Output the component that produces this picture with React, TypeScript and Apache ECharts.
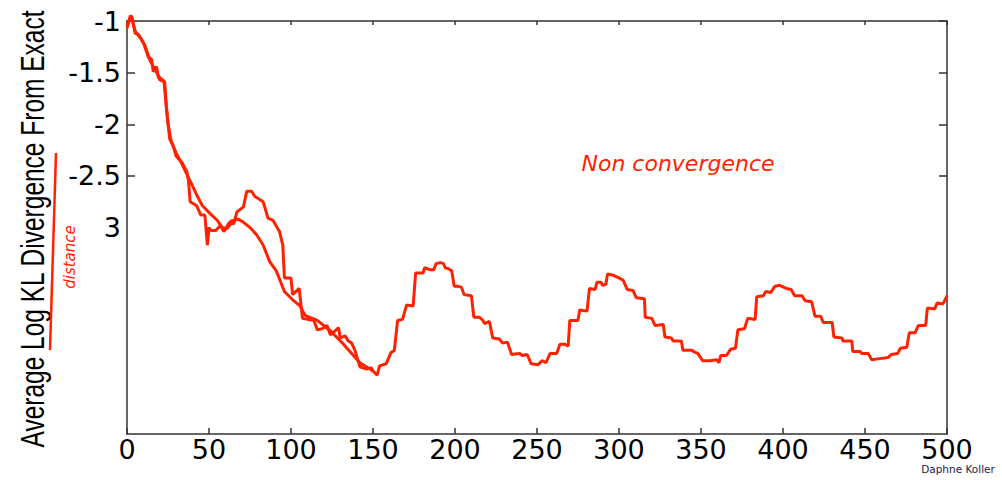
import React, { useEffect, useRef } from "react";
import * as echarts from "echarts";

const xTicks = [0, 50, 100, 150, 200, 250, 300, 350, 400, 450, 500];
const yLabelValues = [-1, -1.5, -2, -2.5, -3];
const yTickValues = [-1, -1.5, -2, -2.5];

const jaggedRun: [number, number][] = [
  [0, -1.07], [2, -0.95], [3, -0.96], [5, -1.12], [7, -1.13], [10, -1.21], [13, -1.35], [15, -1.37],
  [16, -1.49], [18, -1.44], [19, -1.54], [20, -1.57], [23, -1.59], [24, -1.83], [26, -2.14], [28, -2.2],
  [30, -2.31], [33.5, -2.37], [36.5, -2.46], [37.5, -2.55], [38.5, -2.75], [42.5, -2.79], [45, -2.88],
  [47.5, -2.88], [49, -3.17], [50, -3.0], [51, -3.03], [54, -3.03], [57, -2.98], [59, -3.04], [60, -3.02],
  [62, -2.96], [64, -2.93], [65, -2.97], [67, -2.85], [71, -2.8], [73, -2.65], [76, -2.65], [78, -2.7],
  [80, -2.72], [83, -2.75], [86, -2.91], [89, -2.93], [93, -3.04], [95, -3.17], [96, -3.49], [100, -3.49],
  [101, -3.65], [105, -3.59], [107, -3.88], [114, -3.9], [116, -3.99], [119, -3.98], [122, -3.95],
  [124, -4.04], [127, -4.0], [129, -3.97], [130, -4.07], [133, -4.05], [135, -4.1], [137, -4.12],
  [139, -4.19], [142, -4.35], [146, -4.37], [149, -4.36], [150, -4.39], [152.5, -4.43], [154, -4.34],
  [158, -4.32], [161, -4.21], [163, -4.19], [165, -3.9], [168, -3.89], [170.5, -3.75], [174.5, -3.76],
  [176, -3.44], [180.5, -3.44], [181.5, -3.39], [185, -3.41], [187, -3.41], [188.5, -3.35], [191, -3.34],
  [193, -3.35], [194, -3.39], [196, -3.4], [198, -3.42], [199.5, -3.57], [202, -3.57], [204, -3.58],
  [205.5, -3.65], [210, -3.66], [211.5, -3.87], [215, -3.87], [217, -3.9], [218, -3.93], [221, -3.91],
  [223, -4.07], [227, -4.08], [229, -4.12], [232, -4.11], [234.5, -4.23], [239.5, -4.22], [241, -4.24],
  [244, -4.23], [246.5, -4.32], [250.5, -4.33], [253, -4.29], [255.5, -4.31], [258, -4.22], [262, -4.22],
  [264, -4.13], [267, -4.13], [269, -4.15], [270, -3.9], [275, -3.9], [276, -3.8], [280.5, -3.81],
  [282, -3.59], [285.5, -3.6], [286.5, -3.53], [289, -3.53], [290, -3.56], [292, -3.55], [293, -3.45],
  [296, -3.46], [299, -3.48], [302.5, -3.51], [305, -3.6], [308.5, -3.61], [310.5, -3.68], [315.5, -3.69],
  [316, -3.87], [320, -3.88], [322, -3.95], [327, -3.94], [328, -4.06], [332, -4.07], [333, -4.1],
  [338, -4.1], [339, -4.19], [344.5, -4.19], [346.5, -4.21], [348, -4.22], [351, -4.29], [355.5, -4.29],
  [359.5, -4.28], [361, -4.31], [362, -4.24], [365.5, -4.24], [368, -4.18], [371, -4.17], [372.5, -3.99],
  [376.5, -3.98], [378.5, -3.88], [383, -3.89], [384, -3.67], [388, -3.66], [389.5, -3.62], [392.5, -3.63],
  [395, -3.57], [398, -3.56], [402, -3.59], [405, -3.6], [407, -3.66], [411.5, -3.66], [413.5, -3.71],
  [417.5, -3.72], [419.5, -3.86], [423, -3.86], [424.5, -3.92], [430, -3.92], [431, -4.06], [436, -4.07],
  [436.5, -4.1], [442, -4.1], [442.5, -4.2], [447, -4.2], [448, -4.22], [452, -4.22], [454, -4.28],
  [459, -4.27], [464, -4.26], [466, -4.23], [470, -4.22], [471.5, -4.17], [475.5, -4.16], [477, -4.02],
  [480.5, -4.02], [482.5, -3.95], [487, -3.95], [488, -3.78], [492.5, -3.79], [494, -3.73], [497.5, -3.74],
  [499.5, -3.68], [500, -3.66],
];

const smoothRun: [number, number][] = [
  [0, -1.05], [2, -0.97], [3, -0.98], [5, -1.1], [8, -1.16], [11, -1.24], [14, -1.38], [17, -1.47],
  [20, -1.55], [22.5, -1.58], [23.5, -1.75], [25, -2.0], [27, -2.17], [30, -2.28], [34, -2.4], [37, -2.5],
  [40, -2.6], [43, -2.7], [46, -2.79], [51, -2.87], [55, -2.93], [58, -3.0], [61, -3.01], [63, -2.97],
  [65, -2.93], [68, -2.92], [71, -2.95], [75, -3.0], [79, -3.07], [83, -3.17], [87, -3.33], [91, -3.42],
  [96, -3.62], [101, -3.7], [105.5, -3.76], [108.5, -3.85], [116, -3.9], [124, -4.0], [132, -4.13],
  [142, -4.31], [150, -4.39],
];

const RED = "#ff2200";
const AXIS = "#333333";

export default function App() {
  const ref = useRef<HTMLDivElement>(null);
  useEffect(() => {
    if (!ref.current) return;
    const chart = echarts.init(ref.current, undefined, { renderer: "svg" });
    chart.setOption({
      animation: false,
      backgroundColor: "#ffffff",
      grid: { left: 127, right: 55, top: 21, bottom: 46 },
      xAxis: [
        {
          type: "value",
          position: "bottom",
          min: xTicks[0],
          max: xTicks[xTicks.length - 1],
          interval: 50,
          splitLine: { show: false },
          axisLine: { show: true, onZero: false, lineStyle: { color: AXIS, width: 1.5 } },
          axisTick: { show: true, inside: true, length: 6, lineStyle: { color: AXIS, width: 1.5 } },
          axisLabel: {
            show: true,
            margin: 2,
            fontFamily: "DejaVu Sans",
            fontSize: 27,
            color: "#000000",
          },
        },
        {
          type: "value",
          position: "top",
          min: xTicks[0],
          max: xTicks[xTicks.length - 1],
          interval: 50,
          splitLine: { show: false },
          axisLine: { show: true, onZero: false, lineStyle: { color: AXIS, width: 1.5 } },
          axisTick: { show: true, inside: true, length: 4, lineStyle: { color: AXIS, width: 1.5 } },
          axisLabel: { show: false },
        },
      ],
      yAxis: [
        {
          type: "value",
          position: "left",
          min: -5,
          max: -1,
          interval: 0.5,
          splitLine: { show: false },
          axisLine: { show: true, onZero: false, lineStyle: { color: AXIS, width: 1.5 } },
          axisTick: {
            show: true,
            inside: true,
            length: 8,
            customValues: yTickValues,
            lineStyle: { color: AXIS, width: 1.5 },
          },
          axisLabel: {
            show: true,
            customValues: yLabelValues,
            margin: 6,
            fontFamily: "DejaVu Sans",
            fontSize: 27,
            color: "#000000",
            formatter: (v: number) => (v === -3 ? "3" : String(v)),
          },
        },
        {
          type: "value",
          position: "right",
          min: -5,
          max: -1,
          interval: 0.5,
          splitLine: { show: false },
          axisLine: { show: true, onZero: false, lineStyle: { color: AXIS, width: 1.5 } },
          axisTick: {
            show: true,
            inside: true,
            length: 8,
            customValues: yTickValues,
            lineStyle: { color: AXIS, width: 1.5 },
          },
          axisLabel: { show: false },
        },
      ],
      series: [
        {
          type: "line",
          name: "smooth",
          data: smoothRun,
          showSymbol: false,
          symbol: "none",
          clip: false,
          lineStyle: { color: RED, width: 3 },
          z: 3,
        },
        {
          type: "line",
          name: "jagged",
          data: jaggedRun,
          showSymbol: false,
          symbol: "none",
          clip: false,
          lineStyle: { color: RED, width: 3 },
          z: 4,
        },
      ],
      graphic: [
        {
          type: "text",
          x: 33,
          y: 229,
          rotation: Math.PI / 2,
          scaleY: 1.34,
          style: {
            text: "Average Log KL Divergence From Exact",
            fontFamily: "Liberation Sans",
            fontSize: 24.5,
            fill: "#000000",
            textAlign: "center",
            textVerticalAlign: "middle",
          },
        },
        {
          type: "line",
          shape: { x1: 56, y1: 153, x2: 50, y2: 350 },
          style: { stroke: RED, lineWidth: 2.5 },
        },
        {
          type: "text",
          x: 70,
          y: 257,
          rotation: Math.PI / 2,
          style: {
            text: "distance",
            fontFamily: "DejaVu Sans",
            fontSize: 15,
            fontStyle: "italic",
            fill: RED,
            textAlign: "center",
            textVerticalAlign: "middle",
          },
        },
        {
          type: "text",
          x: 678,
          y: 163,
          style: {
            text: "Non convergence",
            fontFamily: "DejaVu Sans",
            fontSize: 22,
            fontStyle: "italic",
            fill: RED,
            textAlign: "center",
            textVerticalAlign: "middle",
          },
        },
        {
          type: "text",
          x: 958,
          y: 469,
          style: {
            text: "Daphne Koller",
            fontFamily: "DejaVu Sans",
            fontSize: 10.5,
            fill: "#1c1c4a",
            textAlign: "center",
            textVerticalAlign: "middle",
          },
        },
      ],
    });
    return () => chart.dispose();
  }, []);
  return (
    <div
      ref={ref}
      style={{ position: "fixed", left: 0, top: 0, width: 1002, height: 480, background: "#ffffff" }}
    />
  );
}
